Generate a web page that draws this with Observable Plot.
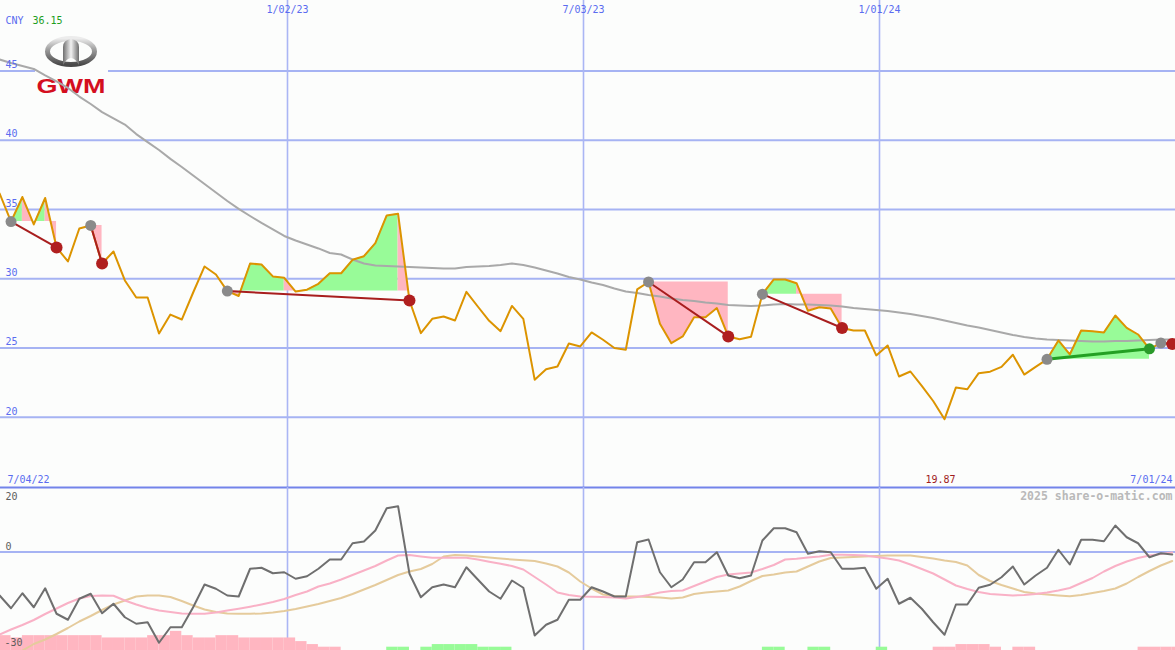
<!DOCTYPE html>
<html><head><meta charset="utf-8">
<script src="https://cdn.jsdelivr.net/npm/d3@7"></script>
<script src="https://cdn.jsdelivr.net/npm/@observablehq/plot@0.6"></script>
<style>
body{margin:0;background:#fcfdfc;}
#chart{position:relative;width:1175px;height:650px;overflow:hidden;background:#fcfdfc;}
#chart > *{position:absolute;left:0;}
</style></head><body><div id="chart"></div>
<script>
// ---------- data ----------
const currency = "CNY";
const headlinePrice = 36.15;
const dateTicks = [new Date(Date.UTC(2023,0,2)), new Date(Date.UTC(2023,6,3)), new Date(Date.UTC(2024,0,1))];
const domainStart = new Date(Date.UTC(2022,6,4));
const domainEnd = new Date(Date.UTC(2024,6,1));
const firstWeek = new Date(Date.UTC(2022,6,9));
const priceTicks = [20,25,30,35,40,45];
const oscTicks = [20,0];
const oscBottomLabel = "-30";
const credit = "2025 share-o-matic.com";

const price = [36.15,34.13,35.90,33.92,35.83,32.26,31.25,33.63,33.85,31.10,
31.97,29.88,28.65,28.65,26.05,27.42,27.06,29.01,30.89,30.31,
29.11,28.76,31.10,31.03,30.17,30.07,29.08,29.21,29.64,30.40,
30.40,31.37,31.63,32.57,34.57,34.69,28.43,26.08,27.11,27.28,
26.99,29.06,28.00,26.97,26.22,28.04,27.11,22.71,23.47,23.67,
25.33,25.12,26.13,25.60,25.01,24.88,29.23,29.77,26.75,25.35,
25.84,27.23,27.23,27.89,25.84,25.64,25.82,28.89,29.95,29.95,
29.68,27.69,27.95,27.86,26.45,26.27,26.27,24.47,25.19,22.95,
23.31,22.27,21.18,19.87,22.16,22.03,23.19,23.30,23.64,24.52,
23.09,23.64,24.19,25.55,24.54,26.27,26.21,26.13,27.35,26.46,
25.98,24.95,25.36,25.30];

const movingAvg = [45.82,45.57,45.35,45.14,44.67,44.24,43.77,43.15,42.61,42.03,
41.57,41.13,40.44,39.86,39.29,38.65,38.07,37.45,36.84,36.23,
35.61,35.04,34.53,34.03,33.56,33.09,32.76,32.47,32.19,31.86,
31.75,31.39,31.10,30.96,30.92,30.89,30.85,30.82,30.78,30.74,
30.74,30.85,30.89,30.92,31.00,31.10,31.00,30.82,30.60,30.38,
30.13,29.95,29.73,29.55,29.30,29.08,28.98,28.83,28.72,28.58,
28.47,28.40,28.29,28.22,28.11,28.07,28.04,28.07,28.15,28.18,
28.15,28.15,28.11,28.07,28.00,27.89,27.82,27.75,27.68,27.57,
27.46,27.32,27.17,26.99,26.81,26.63,26.49,26.31,26.13,25.95,
25.80,25.69,25.62,25.58,25.55,25.51,25.48,25.48,25.51,25.51,
25.55,25.58,25.62,25.62];

const oscillator = [-17.4,-22.5,-16.5,-22.1,-14.5,-24.7,-27.1,-18.7,-16.7,-24.5,
-20.7,-26.1,-28.7,-28.1,-36.3,-30.1,-30.1,-22.1,-13.0,-14.7,
-17.4,-17.8,-6.7,-6.3,-8.5,-8.1,-10.7,-9.7,-6.7,-3.0,
-3.0,3.5,4.2,8.6,17.5,18.3,-8.7,-18.1,-14.1,-13.0,
-14.1,-6.1,-11.0,-15.8,-18.7,-11.4,-14.3,-33.4,-29.1,-27.1,
-19.1,-19.1,-14.1,-15.8,-17.8,-17.8,3.9,5.0,-8.1,-14.1,
-11.0,-4.1,-4.1,-0.1,-9.4,-10.5,-9.4,4.6,9.5,9.5,
7.9,-0.7,0.3,-0.1,-6.7,-6.7,-6.3,-14.7,-10.7,-20.7,
-18.3,-22.7,-28.1,-33.1,-21.0,-21.0,-14.3,-13.1,-10.1,-5.8,
-13.0,-9.4,-6.3,0.9,-5.0,4.9,4.9,4.3,10.6,5.9,
3.5,-2.1,-0.5,-1.0];

const fastSignal = [-33.0,-31.0,-29.2,-27.2,-24.8,-22.6,-20.4,-18.6,-17.6,-17.4,
-17.5,-19.4,-21.0,-22.4,-23.4,-24.0,-24.6,-24.7,-24.7,-24.2,
-23.4,-22.7,-21.9,-21.0,-20.0,-18.8,-17.2,-15.8,-13.8,-12.6,
-11.0,-9.2,-7.4,-5.6,-3.4,-1.4,-1.2,-1.8,-2.3,-2.3,
-2.3,-2.3,-3.0,-3.9,-4.7,-5.6,-7.0,-10.0,-13.0,-16.2,
-17.2,-17.8,-17.9,-18.0,-18.2,-18.6,-18.0,-17.2,-16.2,-15.6,
-15.4,-13.6,-11.8,-10.0,-9.0,-8.6,-8.2,-6.8,-5.2,-3.0,
-2.7,-2.2,-1.8,-1.1,-1.1,-1.2,-1.4,-2.0,-2.6,-3.4,
-5.0,-6.8,-8.6,-11.0,-13.4,-14.8,-16.0,-16.8,-17.1,-17.4,
-17.2,-16.8,-16.2,-15.4,-14.4,-12.4,-10.4,-7.8,-5.6,-3.8,
-2.4,-1.4,-0.8,-0.2];

const slowSignal = [-45.8,-42.6,-39.4,-36.8,-35.0,-32.8,-30.4,-27.8,-25.6,-23.2,
-21.0,-19.4,-17.8,-17.4,-17.4,-18.0,-19.6,-21.4,-23.0,-24.0,
-24.6,-24.7,-24.7,-24.6,-24.2,-23.6,-22.8,-21.8,-20.8,-19.6,
-18.4,-16.8,-15.0,-13.2,-11.2,-9.2,-7.8,-6.8,-4.8,-1.8,
-1.2,-1.4,-1.8,-2.2,-2.6,-3.0,-3.3,-3.6,-4.6,-5.8,
-8.2,-11.8,-14.6,-17.0,-17.6,-17.8,-17.8,-18.0,-18.2,-18.6,
-18.2,-16.8,-16.2,-15.8,-15.4,-13.8,-11.6,-9.6,-9.0,-8.2,
-7.8,-5.8,-3.8,-2.4,-2.2,-2.0,-1.8,-1.6,-1.4,-1.4,
-1.4,-2.0,-2.6,-3.4,-4.0,-5.4,-9.2,-11.6,-13.2,-14.6,
-16.0,-16.6,-17.0,-17.4,-17.7,-17.2,-16.4,-15.6,-14.6,-12.6,
-10.0,-7.6,-5.4,-3.6];

const histogram = [-4.5,-3.8,-4.5,-4.5,-4.5,-4.5,-4.5,-4.5,-4.5,-3.8,
-3.8,-3.8,-3.8,-4.5,-4.5,-5.8,-4.5,-3.8,-3.8,-4.5,
-4.5,-3.8,-3.8,-3.8,-3.8,-3.8,-2.7,-1.8,-1.0,-1.0,
0,0,0,0,1.0,1.0,0,1.0,1.8,1.8,
1.8,1.8,1.0,1.0,1.0,0,0,0,0,0,
0,0,0,0,0,0,0,0,0,0,
0,0,0,0,0,0,0,1.0,1.0,0,
0,1.0,1.0,0,0,0,0,1.0,0,0,
0,0,-1.0,-1.0,-1.8,-1.8,-1.8,-1.0,0,-1.0,
-1.0,0,0,0,0,0,0,0,0,0,
-1.0,-1.0,-1.0,-1.0];

const signalStart = [1, 8, 20, 57, 67, 92, 102];
const signalEnd   = [5, 9, 36, 64, 74, 101, 103];

// ---------- styles ----------
const GRID = "#a6b3f3", VGRID = "#aab6f4", SEP = "#7384ea", BLUE = "#5a6cf0";
const GREENFILL = "#98fb98", PINKFILL = "#ffb6c1";
const FONT = "DejaVu Sans Mono, monospace";

// ---------- derived tables ----------
const weeks = price.map((p, i) => ({
  i, date: d3.utcDay.offset(firstWeek, 7 * i), next: d3.utcDay.offset(firstWeek, 7 * (i + 1)),
  price: p, ma: movingAvg[i], osc: oscillator[i], fast: fastSignal[i], slow: slowSignal[i], hist: histogram[i]
}));
const signals = signalStart.map((s, k) => ({
  s, e: signalEnd[k], base: price[s],
  x1: weeks[s].date, y1: price[s], x2: weeks[signalEnd[k]].date, y2: price[signalEnd[k]],
  up: price[signalEnd[k]] > price[s]
}));
const upSignals = signals.filter(d => d.up), downSignals = signals.filter(d => !d.up);

const greenRuns = [], pinkRuns = [];
let runId = 0;
signals.forEach(sg => {
  let cur = null, curGreen = null;
  for (let i = sg.s; i < sg.e; i++) {
    const g = price[i + 1] >= sg.base;
    if (g !== curGreen) {
      runId++; curGreen = g;
      cur = g ? greenRuns : pinkRuns;
      cur.push({date: weeks[i].date, price: price[i], base: sg.base, id: runId});
    }
    cur.push({date: weeks[i + 1].date, price: price[i + 1], base: sg.base, id: runId});
  }
});
const minIdx = d3.minIndex(price);
const fmtDate = d3.utcFormat("%-m/%d/%y");

// ---------- plots ----------
const W = 1175, TOPH = 488, BOTH = 163;
const xScale = {type: "utc", domain: [domainStart, domainEnd], range: [-9, W], axis: null};
const yTop = {domain: [14.94, 50.08], axis: null};
const base = {width: W, marginLeft: 0, marginRight: 0, marginTop: 0, marginBottom: 0,
  style: {background: "transparent", overflow: "visible", fontFamily: FONT, fontSize: "10px"}};

const gridTop = Plot.plot({...base, height: TOPH, marginBottom: 1, x: xScale, y: yTop, marks: [
  Plot.ruleY(priceTicks, {stroke: GRID, strokeWidth: 2}),
  Plot.ruleX(dateTicks, {stroke: VGRID, strokeWidth: 1.6}),
  Plot.ruleY([yTop.domain[0]], {stroke: SEP, strokeWidth: 2})
]});

const dataTop = Plot.plot({...base, height: TOPH, marginBottom: 1, x: xScale, y: yTop, marks: [
  Plot.area(greenRuns, {x1: "date", y1: "base", y2: "price", z: "id", fill: GREENFILL}),
  Plot.area(pinkRuns, {x1: "date", y1: "base", y2: "price", z: "id", fill: PINKFILL}),
  Plot.line(weeks, {x: "date", y: "ma", stroke: "#a9a9a9", strokeWidth: 2}),
  Plot.line(weeks, {x: "date", y: "price", stroke: "#dc9400", strokeWidth: 2}),
  Plot.link(downSignals, {x1: "x1", y1: "y1", x2: "x2", y2: "y2", stroke: "#a81e1e", strokeWidth: 2}),
  Plot.link(upSignals, {x1: "x1", y1: "y1", x2: "x2", y2: "y2", stroke: "#23a023", strokeWidth: 3}),
  Plot.dot(signals, {x: "x1", y: "y1", r: 5.5, fill: "#8a8a8a"}),
  Plot.dot(downSignals, {x: "x2", y: "y2", r: 6, fill: "#b01f1f"}),
  Plot.dot(upSignals, {x: "x2", y: "y2", r: 5.5, fill: "#2a9a2a"}),
  Plot.text(priceTicks, {y: d => d, text: d => String(d), frameAnchor: "left", textAnchor: "start", lineAnchor: "middle", dx: 5, dy: -6, fill: BLUE}),
  Plot.text(dateTicks, {x: d => d, text: d => fmtDate(d), frameAnchor: "top", lineAnchor: "middle", dy: 9, fill: BLUE}),
  Plot.text([currency], {text: d => d, frameAnchor: "top-left", lineAnchor: "middle", dx: 5, dy: 20, fill: BLUE}),
  Plot.text([headlinePrice], {text: d => d.toFixed(2), frameAnchor: "top-left", lineAnchor: "middle", dx: 32, dy: 20, fill: "#1e9e1e"}),
  Plot.text([domainStart], {text: d => fmtDate(d), frameAnchor: "bottom-left", lineAnchor: "middle", dx: 7, dy: -8, fill: BLUE}),
  Plot.text([domainEnd], {text: d => fmtDate(d), frameAnchor: "bottom-right", lineAnchor: "middle", dx: -3, dy: -8, fill: BLUE}),
  Plot.text([weeks[minIdx]], {x: "date", text: d => d.price.toFixed(2), frameAnchor: "bottom", lineAnchor: "middle", dx: -4, dy: -8, fill: "#a01c1c"})
]});

const barsBot = Plot.plot({...base, height: BOTH, x: xScale, y: {domain: [0, 49.4], axis: null}, marks: [
  Plot.ruleX(dateTicks, {stroke: VGRID, strokeWidth: 1.6}),
  Plot.rect(weeks.filter(d => d.hist < 0), {x1: "date", x2: "next", y1: 0, y2: d => -d.hist, fill: PINKFILL}),
  Plot.rect(weeks.filter(d => d.hist > 0), {x1: "date", x2: "next", y1: 0, y2: d => d.hist, fill: GREENFILL})
]});

const linesBot = Plot.plot({...base, height: BOTH, x: xScale, y: {domain: [-39.4, 25.8], axis: null}, marks: [
  Plot.ruleY([0], {stroke: GRID, strokeWidth: 2}),
  Plot.line(weeks, {x: "date", y: "slow", stroke: "#e5cb9c", strokeWidth: 2, clip: true}),
  Plot.line(weeks, {x: "date", y: "fast", stroke: "#f9b1c6", strokeWidth: 2, clip: true}),
  Plot.line(weeks, {x: "date", y: "osc", stroke: "#6f6f6f", strokeWidth: 2, clip: true}),
  Plot.text(oscTicks, {y: d => d, text: d => String(d), frameAnchor: "left", textAnchor: "start", lineAnchor: "middle", dx: 5, dy: -5.5, fill: "#5c5c5c"}),
  Plot.text([oscBottomLabel], {text: d => d, frameAnchor: "bottom-left", lineAnchor: "middle", dx: 4, dy: -8, fill: "#5c5c5c"}),
  Plot.text([credit], {text: d => d, frameAnchor: "top-right", lineAnchor: "middle", dx: -3, dy: 9, fill: "#b9b9b9", fontSize: 11.5, fontWeight: "bold"})
]});

// ---------- logo ----------
const logo = document.createElement("div");
logo.style.cssText = "top:0;width:120px;height:100px;";
logo.innerHTML = `<svg width="120" height="100" xmlns="http://www.w3.org/2000/svg">
<defs>
<linearGradient id="ring" x1="0" y1="0" x2="0" y2="1"><stop offset="0" stop-color="#ececec"/><stop offset="0.45" stop-color="#9a9a9a"/><stop offset="1" stop-color="#4a4a4a"/></linearGradient>
<linearGradient id="tower" x1="0" y1="0" x2="1" y2="0"><stop offset="0" stop-color="#6e6e6e"/><stop offset="0.5" stop-color="#f2f2f2"/><stop offset="1" stop-color="#6e6e6e"/></linearGradient>
</defs>
<rect x="35" y="66" width="73" height="8" fill="#fcfdfc"/>
<ellipse cx="71" cy="51.5" rx="23.5" ry="13" fill="none" stroke="url(#ring)" stroke-width="5"/>
<path d="M63 65 L63 47 Q63 40 71 39 Q79 40 79 47 L79 65 Q75 58 71 58 Q67 58 63 65 Z" fill="url(#tower)"/>
<text x="71" y="92.5" text-anchor="middle" font-family="Liberation Sans, Arial, sans-serif" font-weight="bold" font-size="20.5" fill="#d40f1f" textLength="69" lengthAdjust="spacingAndGlyphs">GWM</text>
</svg>`;

const chart = document.getElementById("chart");
gridTop.style.top = "0px";
dataTop.style.top = "0px";
barsBot.style.top = "487px";
linesBot.style.top = "487px";
chart.append(gridTop, logo, dataTop, barsBot, linesBot);
</script></body></html>
